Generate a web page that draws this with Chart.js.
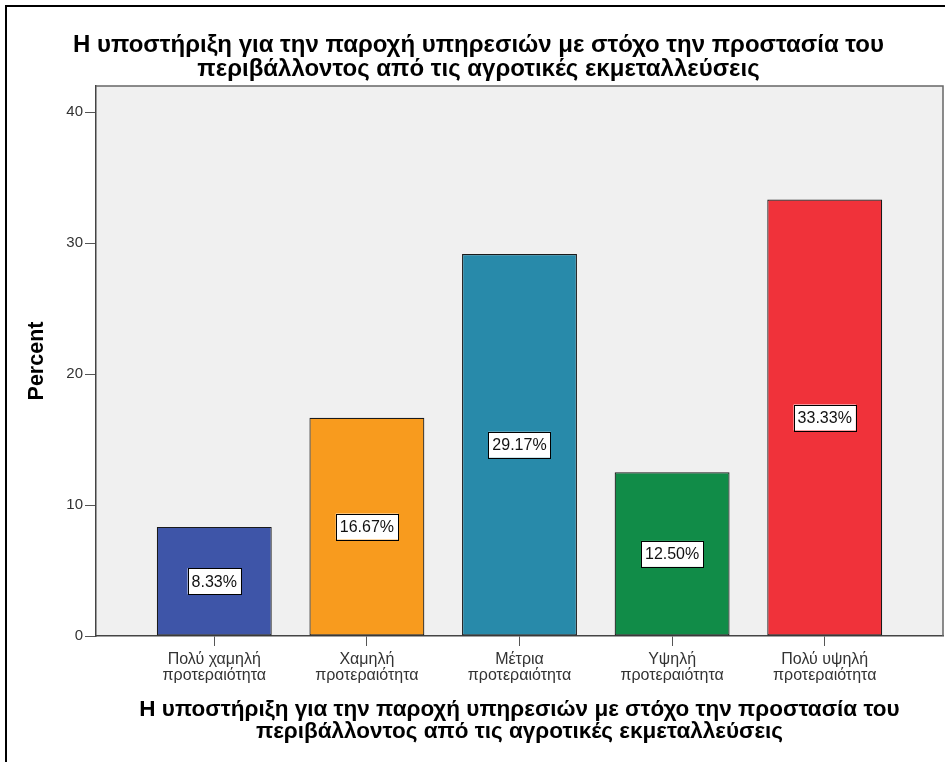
<!DOCTYPE html>
<html lang="el">
<head>
    <meta charset="UTF-8">
    <title>Percent by priority</title>
    <script src="https://cdn.jsdelivr.net/npm/chart.js@4.4.1/dist/chart.umd.min.js"></script>
    <style>
        html, body { margin: 0; padding: 0; background: #fff; }
        #wrap { position: relative; width: 945px; height: 762px; }
        #frame {
            position: absolute; left: 5px; top: 5px; right: 0; bottom: 0;
            border-left: 2px solid #000; border-top: 2px solid #000;
            pointer-events: none;
        }
    </style>
</head>
<body>
    <div id="wrap">
        <canvas id="chart" width="945" height="762"></canvas>
        <div id="frame"></div>
    </div>

    <script>
        // data
        const categories = [
            ['Πολύ χαμηλή', 'προτεραιότητα'],
            ['Χαμηλή', 'προτεραιότητα'],
            ['Μέτρια', 'προτεραιότητα'],
            ['Υψηλή', 'προτεραιότητα'],
            ['Πολύ υψηλή', 'προτεραιότητα']
        ];
        const percents = [8.33, 16.67, 29.17, 12.50, 33.33];
        const barColors = ['#3e55a8', '#f89b1e', '#288aaa', '#118c48', '#f0323a'];
        const yTicks = [0, 10, 20, 30, 40];
        const titleLines = [
            'Η υποστήριξη για την παροχή υπηρεσιών με στόχο την προστασία του',
            'περιβάλλοντος από τις αγροτικές εκμεταλλεύσεις'
        ];
        const xTitleLines = titleLines;
        const yTitle = 'Percent';

        const FONT = '"Liberation Sans", Arial, sans-serif';
        Chart.defaults.font.family = FONT;

        // grey plot background + frame on top/right
        const plotBox = {
            id: 'plotBox',
            beforeDraw(chart) {
                const a = chart.chartArea, ctx = chart.ctx;
                ctx.save();
                ctx.fillStyle = '#f0f0f0';
                ctx.fillRect(a.left, a.top, a.right - a.left, a.bottom - a.top);
                ctx.restore();
            },
            beforeDatasetsDraw(chart) {
                const a = chart.chartArea, ctx = chart.ctx;
                ctx.save();
                ctx.strokeStyle = '#666';
                ctx.lineWidth = 1.5;
                ctx.beginPath();
                ctx.moveTo(a.left, a.top);
                ctx.lineTo(a.right, a.top);
                ctx.lineTo(a.right, a.bottom);
                ctx.stroke();
                ctx.restore();
            }
        };

        // boxed value labels in the middle of each bar
        const valueBoxes = {
            id: 'valueBoxes',
            afterDatasetsDraw(chart) {
                const ctx = chart.ctx;
                const meta = chart.getDatasetMeta(0);
                ctx.save();
                ctx.font = '16px ' + FONT;
                ctx.textAlign = 'center';
                ctx.textBaseline = 'middle';
                meta.data.forEach((bar, i) => {
                    const txt = percents[i].toFixed(2) + '%';
                    const cy = (bar.y + bar.base) / 2;
                    const w = ctx.measureText(txt).width + 8;
                    const h = 26;
                    ctx.fillStyle = '#fff';
                    ctx.fillRect(bar.x - w / 2, cy - h / 2, w, h);
                    ctx.strokeStyle = '#000';
                    ctx.lineWidth = 1;
                    ctx.strokeRect(Math.round(bar.x - w / 2) + 0.5, Math.round(cy - h / 2) + 0.5, Math.round(w), h);
                    ctx.fillStyle = '#111';
                    ctx.fillText(txt, bar.x, cy + 1);
                });
                ctx.restore();
            }
        };

        new Chart(document.getElementById('chart'), {
            type: 'bar',
            data: {
                datasets: [{
                    data: percents.map((v, i) => ({ x: i + 1, y: v })),
                    backgroundColor: barColors,
                    borderColor: '#1a1a1a',
                    borderWidth: 1.2,
                    borderSkipped: false,
                    barPercentage: 0.753,
                    categoryPercentage: 1
                }]
            },
            options: {
                responsive: false,
                animation: false,
                devicePixelRatio: 1,
                layout: { padding: { left: 14, right: 2, top: 0, bottom: 0 } },
                plugins: {
                    legend: { display: false },
                    tooltip: { enabled: false },
                    title: {
                        display: true,
                        text: titleLines,
                        color: '#000',
                        font: { size: 24, weight: 'bold', lineHeight: 1.0 },
                        padding: { top: 33, bottom: 5 }
                    }
                },
                scales: {
                    x: {
                        type: 'linear',
                        offset: false,
                        min: 0.225,
                        max: 5.775,
                        afterBuildTicks: s => { s.ticks = categories.map((c, i) => ({ value: i + 1 })); },
                        afterFit: s => { s.height = 126; s.paddingLeft = 0; s.paddingRight = 0; },
                        ticks: {
                            autoSkip: false,
                            maxRotation: 0,
                            color: '#333',
                            padding: 6,
                            font: { size: 16, lineHeight: 1.0 },
                            callback: (v, i) => categories[i]
                        },
                        grid: { offset: false, drawOnChartArea: false, drawTicks: true, tickLength: 10, color: '#555' },
                        border: { color: '#444', width: 1.5 },
                        title: {
                            display: true,
                            text: xTitleLines,
                            color: '#000',
                            font: { size: 22.5, weight: 'bold', lineHeight: 1.0 },
                            padding: { top: 0, bottom: 18.75 }
                        }
                    },
                    y: {
                        min: 0,
                        max: 42,
                        afterBuildTicks: s => { s.ticks = yTicks.map(v => ({ value: v })); },
                        afterFit: s => { s.width = 82; s.paddingTop = 0; s.paddingBottom = 0; },
                        ticks: { color: '#333', padding: 2, font: { size: 15 } },
                        grid: { drawOnChartArea: false, drawTicks: true, tickLength: 11, color: '#555' },
                        border: { color: '#444', width: 1.5 },
                        title: {
                            display: true,
                            text: yTitle,
                            color: '#000',
                            font: { size: 21.5, weight: 'bold', lineHeight: 1.2 },
                            padding: { top: 10, bottom: 0 }
                        }
                    }
                }
            },
            plugins: [plotBox, valueBoxes]
        });
    </script>
</body>
</html>
